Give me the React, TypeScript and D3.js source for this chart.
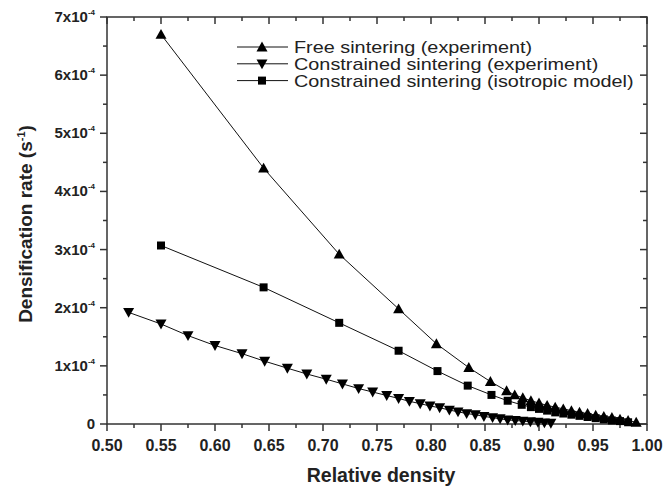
import React from "react";
import * as d3 from "d3";

const freeX = [0.55, 0.645, 0.715, 0.77, 0.805, 0.835, 0.855, 0.87, 0.8775, 0.885, 0.8925, 0.9, 0.9075, 0.915, 0.9225, 0.93, 0.9375, 0.945, 0.9525, 0.96, 0.9675, 0.975, 0.9825, 0.99];
const freeY = [6.7, 4.4, 2.92, 1.98, 1.38, 0.97, 0.73, 0.57, 0.5, 0.45, 0.4, 0.36, 0.32, 0.29, 0.26, 0.23, 0.2, 0.18, 0.15, 0.13, 0.11, 0.08, 0.06, 0.03];

const conX = [0.52, 0.55, 0.575, 0.6, 0.625, 0.646, 0.667, 0.685, 0.703, 0.718, 0.733, 0.746, 0.759, 0.77, 0.78, 0.79, 0.799, 0.808, 0.817, 0.825, 0.833, 0.841, 0.849, 0.857, 0.864, 0.871, 0.878, 0.885, 0.892, 0.899, 0.905, 0.911];
const conY = [1.92, 1.72, 1.52, 1.35, 1.21, 1.08, 0.96, 0.86, 0.77, 0.69, 0.61, 0.55, 0.49, 0.44, 0.39, 0.35, 0.31, 0.28, 0.24, 0.21, 0.18, 0.16, 0.13, 0.11, 0.09, 0.07, 0.06, 0.05, 0.04, 0.03, 0.02, 0.015];

const isoX = [0.55, 0.645, 0.715, 0.77, 0.806, 0.834, 0.856, 0.871, 0.884, 0.8925, 0.9, 0.9075, 0.915, 0.9225, 0.93, 0.9375, 0.945, 0.9525, 0.96, 0.9675, 0.975, 0.9825];
const isoY = [3.07, 2.35, 1.74, 1.26, 0.91, 0.66, 0.5, 0.4, 0.33, 0.29, 0.26, 0.23, 0.2, 0.18, 0.16, 0.14, 0.12, 0.1, 0.08, 0.06, 0.05, 0.03];

const xTicks = [0.5, 0.55, 0.6, 0.65, 0.7, 0.75, 0.8, 0.85, 0.9, 0.95, 1.0];
const yTicks = [0, 1, 2, 3, 4, 5, 6, 7];

const legendLabels = [
  "Free sintering (experiment)",
  "Constrained sintering (experiment)",
  "Constrained sintering (isotropic model)",
];

const L = 107, R = 647, T = 17, B = 424;
const x = d3.scaleLinear().domain([0.5, 1.0]).range([L, R]);
const y = d3.scaleLinear().domain([0, 7]).range([B, T]);

const triUp = (cx: number, cy: number, s = 5.5) =>
  `M${cx},${cy - s}L${cx + s},${cy + s * 0.8}L${cx - s},${cy + s * 0.8}Z`;
const triDown = (cx: number, cy: number, s = 5.5) =>
  `M${cx},${cy + s}L${cx + s},${cy - s * 0.8}L${cx - s},${cy - s * 0.8}Z`;
const square = (cx: number, cy: number, s = 4) =>
  `M${cx - s},${cy - s}h${2 * s}v${2 * s}h${-2 * s}Z`;

function Series({ xs, ys, marker }: { xs: number[]; ys: number[]; marker: (cx: number, cy: number) => string }) {
  const line = d3.line<number>().x((_, i) => x(xs[i])).y((d) => y(d));
  return (
    <g>
      <path d={line(ys) || ""} fill="none" stroke="#111" strokeWidth={1} />
      {ys.map((v, i) => (
        <path key={i} d={marker(x(xs[i]), y(v))} fill="#000" />
      ))}
    </g>
  );
}

export default function App() {
  const font = "'Liberation Sans', Arial, sans-serif";
  const xMinor = d3.range(0.525, 1.0, 0.05);
  const yMinor = d3.range(0.5, 7, 1);
  const axisColor = "#333";
  return (
    <svg width={665} height={491} style={{ position: "absolute", left: 0, top: 0, background: "#fff" }} fontFamily={font}>
      <rect x={L} y={T} width={R - L} height={B - T} fill="none" stroke={axisColor} strokeWidth={1.5} />
      {xTicks.map((t) => (
        <g key={"xt" + t}>
          <line x1={x(t)} x2={x(t)} y1={B} y2={B + 7} stroke={axisColor} strokeWidth={1.5} />
          <line x1={x(t)} x2={x(t)} y1={T} y2={T + 7} stroke={axisColor} strokeWidth={1.5} />
          <text x={x(t)} y={451} textAnchor="middle" fontSize={16} fontWeight="bold" fill="#222">
            {t.toFixed(2)}
          </text>
        </g>
      ))}
      {xMinor.map((t) => (
        <g key={"xm" + t}>
          <line x1={x(t)} x2={x(t)} y1={B} y2={B + 4} stroke={axisColor} strokeWidth={1.5} />
          <line x1={x(t)} x2={x(t)} y1={T} y2={T + 4} stroke={axisColor} strokeWidth={1.5} />
        </g>
      ))}
      {yTicks.map((t) => (
        <g key={"yt" + t}>
          <line x1={L - 7} x2={L} y1={y(t)} y2={y(t)} stroke={axisColor} strokeWidth={1.5} />
          <line x1={R - 7} x2={R} y1={y(t)} y2={y(t)} stroke={axisColor} strokeWidth={1.5} />
          {t === 0 ? (
            <text x={95} y={y(t) + 5} textAnchor="end" fontSize={15} fontWeight="bold" fill="#222">0</text>
          ) : (
            <text x={95} y={y(t) + 5} textAnchor="end" fontSize={15} fontWeight="bold" fill="#222">
              {t}x10<tspan fontSize={8} dy={-7}>-4</tspan>
            </text>
          )}
        </g>
      ))}
      {yMinor.map((t) => (
        <g key={"ym" + t}>
          <line x1={L - 4} x2={L} y1={y(t)} y2={y(t)} stroke={axisColor} strokeWidth={1.5} />
          <line x1={R - 4} x2={R} y1={y(t)} y2={y(t)} stroke={axisColor} strokeWidth={1.5} />
        </g>
      ))}
      <text x={381} y={482} textAnchor="middle" fontSize={19.5} fontWeight="bold" fill="#222">Relative density</text>
      <text transform="translate(32,224) rotate(-90)" textAnchor="middle" fontSize={19} fontWeight="bold" fill="#222">
        Densification rate (s<tspan fontSize={11} dy={-7}>-1</tspan><tspan dy={7}>)</tspan>
      </text>
      <Series xs={conX} ys={conY} marker={triDown} />
      <Series xs={isoX} ys={isoY} marker={square} />
      <Series xs={freeX} ys={freeY} marker={triUp} />
      {legendLabels.map((lab, i) => {
        const ly = 47 + i * 16.8;
        const mk = i === 0 ? triUp : i === 1 ? triDown : square;
        return (
          <g key={lab}>
            <line x1={237} x2={288} y1={ly} y2={ly} stroke="#111" strokeWidth={1} />
            <path d={mk(262, ly)} fill="#000" />
            <g transform={`translate(294,${ly + 6}) scale(1.24,1)`}>
              <text x={0} y={0} fontSize={16} fill="#222">{lab}</text>
            </g>
          </g>
        );
      })}
    </svg>
  );
}
